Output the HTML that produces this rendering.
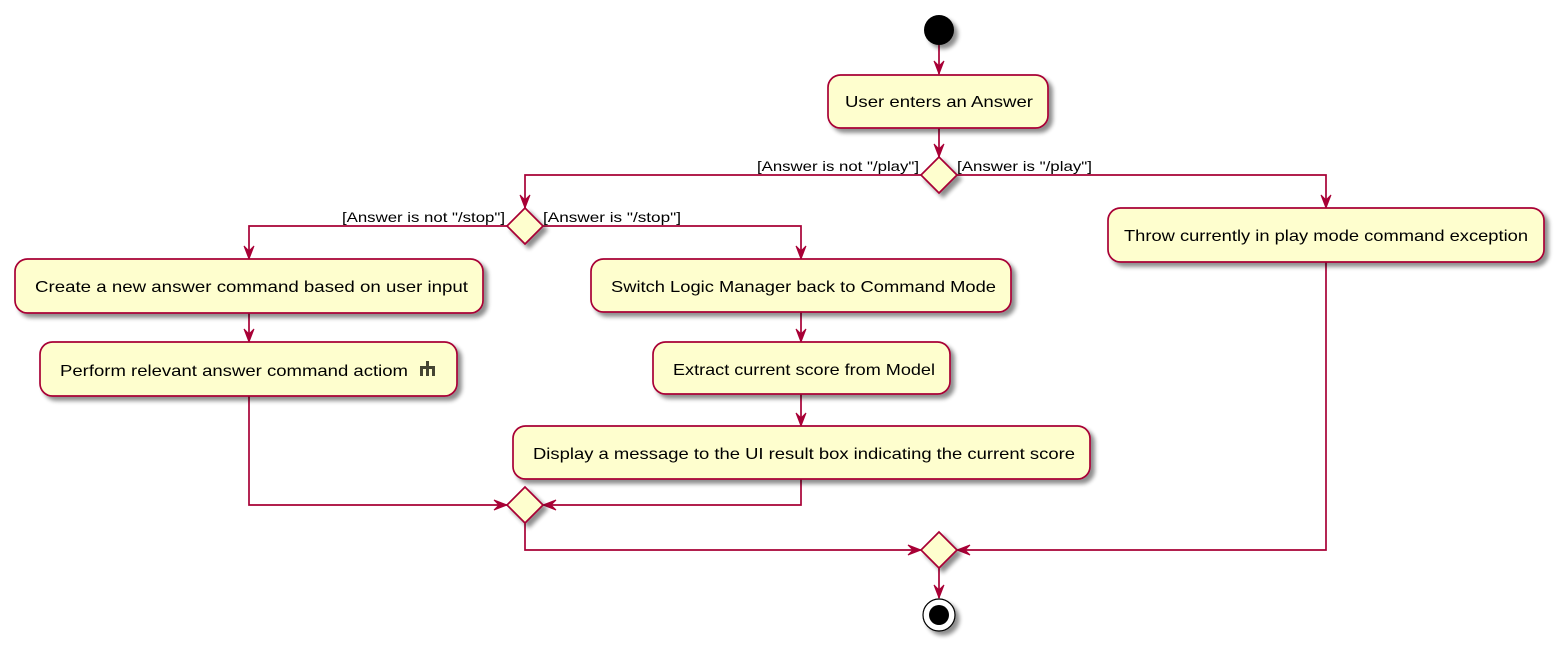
<!DOCTYPE html>
<html><head><meta charset="utf-8"><style>
html,body{margin:0;padding:0;background:#fff;}
svg{display:block;}
text{font-family:"Liberation Sans",Arial,sans-serif;fill:#000;}
</style></head><body>
<svg width="1558" height="646" viewBox="0 0 1558 646" xmlns="http://www.w3.org/2000/svg">
<defs>
<filter id="sh" x="-10%" y="-20%" width="130%" height="150%">
<feGaussianBlur in="SourceAlpha" stdDeviation="2"/>
<feOffset dx="4" dy="4" result="b"/>
<feComponentTransfer><feFuncA type="linear" slope="0.45"/></feComponentTransfer>
<feMerge><feMergeNode/><feMergeNode in="SourceGraphic"/></feMerge>
</filter>
</defs>
<g fill="none" stroke="#A80036" stroke-width="1.7">
<line x1="939" y1="45" x2="939" y2="74"/>
<line x1="939" y1="128" x2="939" y2="157"/>
<polyline points="921,175 525,175 525,208"/>
<polyline points="957,175 1326,175 1326,208"/>
<polyline points="507,226 249,226 249,259"/>
<polyline points="543,226 801,226 801,259"/>
<line x1="249" y1="313" x2="249" y2="342"/>
<line x1="801" y1="312" x2="801" y2="342"/>
<line x1="801" y1="394" x2="801" y2="426"/>
<polyline points="249,396 249,505 507,505"/>
<polyline points="801,479 801,505 543,505"/>
<polyline points="525,523 525,550 921,550"/>
<polyline points="1326,262 1326,550 957,550"/>
<line x1="939" y1="568" x2="939" y2="598"/>
</g>
<g fill="#A80036" stroke="#A80036" stroke-width="1">
<polygon points="934,61 939,74 944,61 939,66"/>
<polygon points="934,144 939,157 944,144 939,149"/>
<polygon points="520,195 525,208 530,195 525,200"/>
<polygon points="1321,195 1326,208 1331,195 1326,200"/>
<polygon points="244,246 249,259 254,246 249,251"/>
<polygon points="796,246 801,259 806,246 801,251"/>
<polygon points="244,329 249,342 254,329 249,334"/>
<polygon points="796,329 801,342 806,329 801,334"/>
<polygon points="796,413 801,426 806,413 801,418"/>
<polygon points="934,585 939,598 944,585 939,590"/>
<polygon points="494,500 507,505 494,510 499,505"/>
<polygon points="556,500 543,505 556,510 551,505"/>
<polygon points="908,545 921,550 908,555 913,550"/>
<polygon points="970,545 957,550 970,555 965,550"/>
</g>
<g filter="url(#sh)">
<circle cx="939" cy="30" r="15" fill="#000"/>
<g fill="#FEFECE" stroke="#A80036" stroke-width="1.7">
<rect x="828" y="75" width="220" height="53" rx="12.5"/>
<polygon points="939,157 957,175 939,193 921,175"/>
<polygon points="525,208 543,226 525,244 507,226"/>
<rect x="1108" y="208" width="436" height="54" rx="12.5"/>
<rect x="15" y="259" width="468" height="54" rx="12.5"/>
<rect x="591" y="259" width="420" height="53" rx="12.5"/>
<rect x="40" y="342" width="417" height="54" rx="12.5"/>
<rect x="653" y="342" width="297" height="52" rx="12.5"/>
<rect x="513" y="426" width="577" height="53" rx="12.5"/>
<polygon points="525,487 543,505 525,523 507,505"/>
<polygon points="939,532 957,550 939,568 921,550"/>
</g>
<circle cx="939" cy="615" r="16" fill="#fff" stroke="#000" stroke-width="1.2"/>
<circle cx="939" cy="615" r="10" fill="#000"/>
</g>
<g font-size="16">
<text x="845" y="107" textLength="188" lengthAdjust="spacingAndGlyphs">User enters an Answer</text>
<text x="1124" y="241" textLength="404" lengthAdjust="spacingAndGlyphs">Throw currently in play mode command exception</text>
<text x="35" y="292" textLength="433" lengthAdjust="spacingAndGlyphs">Create a new answer command based on user input</text>
<text x="611" y="292" textLength="385" lengthAdjust="spacingAndGlyphs">Switch Logic Manager back to Command Mode</text>
<text x="60" y="376" textLength="348" lengthAdjust="spacingAndGlyphs">Perform relevant answer command actiom</text>
<text x="673" y="375" textLength="262" lengthAdjust="spacingAndGlyphs">Extract current score from Model</text>
<text x="533" y="459" textLength="542" lengthAdjust="spacingAndGlyphs">Display a message to the UI result box indicating the current score</text>
</g>
<g fill="#444433">
<rect x="426" y="361" width="3" height="6"/>
<rect x="420" y="366" width="15" height="3"/>
<rect x="420" y="366" width="3" height="10"/>
<rect x="426" y="366" width="3" height="10"/>
<rect x="432" y="366" width="3" height="10"/>
</g>
<g font-size="14">
<text x="757" y="171" textLength="162" lengthAdjust="spacingAndGlyphs">[Answer is not "/play"]</text>
<text x="957" y="171" textLength="135" lengthAdjust="spacingAndGlyphs">[Answer is "/play"]</text>
<text x="342" y="222" textLength="163" lengthAdjust="spacingAndGlyphs">[Answer is not "/stop"]</text>
<text x="543" y="222" textLength="138" lengthAdjust="spacingAndGlyphs">[Answer is "/stop"]</text>
</g>
</svg>
</body></html>
